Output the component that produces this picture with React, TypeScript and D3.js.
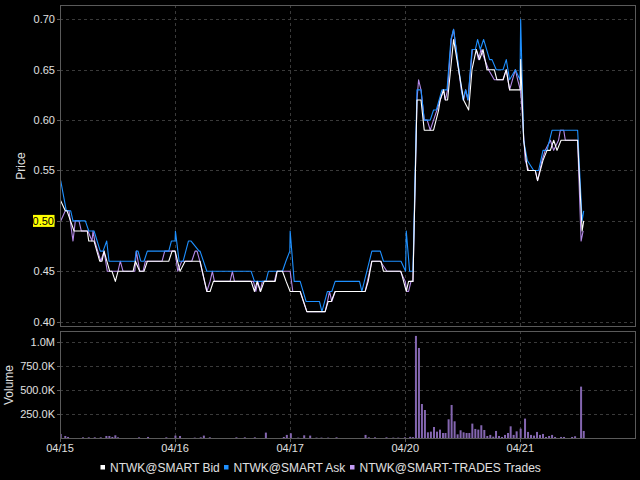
import React from "react";
import * as d3 from "d3";

// ---------- data ----------
const DAY_LABELS = ["04/15", "04/16", "04/17", "04/20", "04/21"];
const PRICE_TICKS = [0.4, 0.45, 0.5, 0.55, 0.6, 0.65, 0.7];
const VOLUME_TICKS = [250000, 500000, 750000, 1000000];
const LAST_PRICE = 0.5;
const SERIES_NAMES = ["NTWK@SMART Bid", "NTWK@SMART Ask", "NTWK@SMART-TRADES Trades"];

// time in trading days since 04/15 open, price
const bid: [number, number][] = [
  [0.006, 0.52], [0.046, 0.51], [0.061, 0.51], [0.122, 0.49], [0.237, 0.49], [0.25, 0.48],
  [0.296, 0.48], [0.345, 0.46], [0.365, 0.46], [0.383, 0.47], [0.432, 0.45], [0.452, 0.45],
  [0.481, 0.44], [0.504, 0.45], [0.635, 0.45], [0.655, 0.46], [0.693, 0.45], [0.73, 0.45],
  [0.759, 0.46], [0.945, 0.46], [0.974, 0.47], [1.0, 0.47], [1.043, 0.45], [1.087, 0.46],
  [1.217, 0.46], [1.276, 0.43], [1.304, 0.43], [1.333, 0.44], [1.661, 0.44], [1.69, 0.43],
  [1.713, 0.44], [1.743, 0.43], [1.774, 0.44], [1.87, 0.44], [1.887, 0.45], [1.933, 0.45],
  [1.965, 0.44], [2.0, 0.43], [2.087, 0.43], [2.145, 0.41], [2.304, 0.41], [2.33, 0.42],
  [2.357, 0.42], [2.391, 0.43], [2.652, 0.43], [2.678, 0.44], [2.71, 0.46], [2.789, 0.46],
  [2.811, 0.45], [2.963, 0.45], [3.009, 0.43], [3.029, 0.44], [3.067, 0.44], [3.102, 0.62],
  [3.137, 0.62], [3.165, 0.59], [3.246, 0.59], [3.29, 0.61], [3.304, 0.62], [3.333, 0.63],
  [3.348, 0.62], [3.368, 0.62], [3.42, 0.68], [3.507, 0.62], [3.551, 0.61], [3.58, 0.65],
  [3.617, 0.67], [3.646, 0.66], [3.676, 0.67], [3.71, 0.65], [3.774, 0.65], [3.797, 0.64],
  [3.85, 0.64], [3.878, 0.65], [3.907, 0.63], [4.0, 0.63], [4.003, 0.66], [4.029, 0.58],
  [4.063, 0.55], [4.13, 0.55], [4.15, 0.54], [4.197, 0.56], [4.232, 0.57], [4.261, 0.57],
  [4.29, 0.58], [4.319, 0.57], [4.354, 0.58], [4.498, 0.58], [4.537, 0.49], [4.551, 0.5],
];

const ask: [number, number][] = [
  [0.006, 0.54], [0.055, 0.51], [0.093, 0.51], [0.113, 0.5], [0.22, 0.5], [0.25, 0.49],
  [0.296, 0.49], [0.35, 0.47], [0.374, 0.47], [0.406, 0.48], [0.426, 0.46], [0.65, 0.46],
  [0.663, 0.47], [0.678, 0.47], [0.702, 0.46], [0.73, 0.46], [0.759, 0.47], [0.945, 0.47],
  [0.968, 0.48], [1.0, 0.48], [1.003, 0.49], [1.035, 0.46], [1.07, 0.46], [1.116, 0.48],
  [1.139, 0.48], [1.209, 0.47], [1.217, 0.47], [1.276, 0.45], [1.661, 0.45], [1.69, 0.44],
  [1.789, 0.44], [1.811, 0.45], [1.933, 0.45], [1.963, 0.46], [1.997, 0.47], [2.0, 0.49],
  [2.035, 0.44], [2.087, 0.44], [2.139, 0.42], [2.255, 0.42], [2.276, 0.41], [2.324, 0.43],
  [2.362, 0.43], [2.391, 0.44], [2.603, 0.44], [2.623, 0.43], [2.71, 0.47], [2.783, 0.47],
  [2.811, 0.46], [2.963, 0.46], [3.003, 0.45], [3.009, 0.49], [3.038, 0.45], [3.067, 0.45],
  [3.102, 0.63], [3.137, 0.63], [3.165, 0.6], [3.217, 0.6], [3.246, 0.61], [3.27, 0.61],
  [3.319, 0.63], [3.363, 0.63], [3.397, 0.68], [3.42, 0.69], [3.502, 0.62], [3.525, 0.63],
  [3.545, 0.62], [3.58, 0.67], [3.609, 0.67], [3.629, 0.68], [3.652, 0.67], [3.681, 0.68],
  [3.733, 0.66], [3.754, 0.66], [3.791, 0.65], [3.85, 0.65], [3.878, 0.66], [3.907, 0.64],
  [3.957, 0.65], [3.997, 0.64], [4.003, 0.7], [4.029, 0.58], [4.061, 0.56], [4.116, 0.55],
  [4.159, 0.55], [4.197, 0.57], [4.232, 0.57], [4.276, 0.59], [4.498, 0.59], [4.537, 0.5],
  [4.551, 0.51],
];

const trades: [number, number][] = [
  [0.006, 0.5], [0.046, 0.51], [0.078, 0.51], [0.113, 0.48], [0.133, 0.5], [0.165, 0.5],
  [0.185, 0.49], [0.243, 0.49], [0.278, 0.48], [0.287, 0.49], [0.302, 0.48], [0.354, 0.46],
  [0.383, 0.47], [0.411, 0.45], [0.504, 0.45], [0.524, 0.46], [0.548, 0.45], [0.65, 0.45],
  [0.663, 0.47], [0.693, 0.45], [0.722, 0.45], [0.742, 0.46], [0.887, 0.46], [0.91, 0.47],
  [0.974, 0.47], [1.0, 0.47], [1.023, 0.45], [1.058, 0.46], [1.145, 0.46], [1.174, 0.47],
  [1.191, 0.47], [1.215, 0.46], [1.276, 0.43], [1.304, 0.44], [1.324, 0.45], [1.342, 0.44],
  [1.478, 0.44], [1.498, 0.45], [1.516, 0.44], [1.681, 0.44], [1.702, 0.43], [1.719, 0.44],
  [1.739, 0.43], [1.759, 0.44], [1.863, 0.44], [1.884, 0.45], [1.957, 0.45], [2.0, 0.45],
  [2.023, 0.43], [2.087, 0.43], [2.145, 0.41], [2.304, 0.41], [2.324, 0.42], [2.342, 0.43],
  [2.362, 0.42], [2.391, 0.43], [2.652, 0.43], [2.71, 0.46], [2.783, 0.46], [2.841, 0.45],
  [2.957, 0.45], [3.0, 0.44], [3.014, 0.43], [3.029, 0.43], [3.05, 0.44], [3.067, 0.44],
  [3.102, 0.62], [3.116, 0.64], [3.137, 0.63], [3.165, 0.6], [3.191, 0.6], [3.217, 0.59],
  [3.246, 0.6], [3.276, 0.61], [3.333, 0.63], [3.348, 0.62], [3.368, 0.63], [3.4, 0.68],
  [3.42, 0.69], [3.487, 0.63], [3.507, 0.62], [3.525, 0.63], [3.545, 0.62], [3.583, 0.67],
  [3.617, 0.67], [3.637, 0.66], [3.658, 0.67], [3.724, 0.65], [3.774, 0.64], [3.85, 0.64],
  [3.878, 0.65], [3.907, 0.63], [3.957, 0.65], [3.977, 0.64], [4.0, 0.63], [4.009, 0.62],
  [4.043, 0.56], [4.072, 0.55], [4.13, 0.55], [4.15, 0.54], [4.189, 0.56], [4.217, 0.57],
  [4.261, 0.58], [4.29, 0.57], [4.332, 0.58], [4.348, 0.59], [4.377, 0.59], [4.391, 0.58],
  [4.498, 0.58], [4.528, 0.48], [4.546, 0.49],
];

// time, volume (thousands of shares)
const volume: [number, number][] = [
  [0.006, 45], [0.046, 24], [0.07, 14], [0.2, 10], [0.25, 10], [0.302, 10], [0.354, 10],
  [0.403, 24], [0.429, 24], [0.455, 14], [0.481, 31], [0.504, 10], [0.687, 10], [0.765, 14],
  [0.924, 10], [1.003, 28], [1.043, 24], [1.171, 7], [1.223, 10], [1.25, 28], [1.302, 10],
  [1.533, 10], [1.606, 10], [1.693, 10], [1.789, 59], [1.945, 14], [1.971, 35], [2.006, 52],
  [2.07, 7], [2.122, 31], [2.174, 28], [2.229, 7], [2.272, 7], [2.33, 7], [2.403, 10],
  [2.655, 35], [2.684, 10], [2.737, 10], [2.837, 10], [2.896, 7], [2.939, 7], [2.997, 10],
  [3.043, 15], [3.067, 12], [3.093, 1060], [3.119, 935], [3.145, 355], [3.171, 293],
  [3.197, 62], [3.223, 69], [3.25, 117], [3.276, 69], [3.302, 90], [3.328, 55], [3.35, 55],
  [3.377, 197], [3.403, 345], [3.429, 176], [3.455, 41], [3.481, 83], [3.507, 62], [3.533, 55],
  [3.557, 55], [3.583, 152], [3.609, 97], [3.635, 90], [3.661, 135], [3.687, 86], [3.713, 24],
  [3.739, 35], [3.765, 17], [3.789, 76], [3.815, 24], [3.841, 14], [3.867, 35], [3.893, 55],
  [3.916, 124], [3.942, 35], [3.968, 72], [4.003, 100], [4.041, 204], [4.067, 66], [4.093, 35],
  [4.119, 28], [4.145, 66], [4.171, 35], [4.197, 45], [4.223, 14], [4.25, 24], [4.276, 35],
  [4.302, 14], [4.354, 14], [4.38, 14], [4.45, 14], [4.476, 21], [4.528, 535], [4.551, 76],
];

// ---------- layout ----------
const W = 640;
const H = 480;
const L = 60;
const R = 636;
const P_TOP = 5;
const P_BOT = 326;
const V_TOP = 331;
const V_BOT = 438;

const COLORS = { bid: "#ffffff", ask: "#1e90ff", trades: "#b48ae8", vol: "#8466b0" };
const FONT = "'Liberation Sans', Arial, sans-serif";
const TEXT = "#e0e0e0";
const GRID = "#3a3a3a";
const BORDER = "#5a5a5a";

export default function App() {
  const x = d3.scaleLinear().domain([0, 5]).range([60, 635.4]);
  const yP = d3.scaleLinear().domain([0.4, 0.7]).range([321.7, 19.3]);
  const yV = d3.scaleLinear().domain([0, 1000000]).range([438.3, 341.7]);
  const line = d3
    .line<[number, number]>()
    .x((d) => x(d[0]))
    .y((d) => yP(d[1]));
  const dayTicks = DAY_LABELS.map((_, i) => i);
  const volFmt = (v: number) => (v >= 1000000 ? d3.format(".1f")(v / 1e6) + "M" : d3.format(".1f")(v / 1e3) + "K");

  return (
    <div style={{ position: "fixed", left: 0, top: 0, width: W, height: H, background: "#000" }}>
      <svg width={W} height={H} style={{ display: "block", background: "#000" }} fontFamily={FONT}>
        <defs>
          <clipPath id="pclip">
            <rect x={L} y={P_TOP} width={R - L} height={P_BOT - P_TOP} />
          </clipPath>
          <clipPath id="vclip">
            <rect x={L} y={V_TOP} width={R - L} height={V_BOT - V_TOP} />
          </clipPath>
        </defs>
        <rect x={0} y={0} width={W} height={H} fill="#000" />

        {/* price grid */}
        {PRICE_TICKS.map((t) => (
          <line key={"pg" + t} x1={L} x2={R} y1={Math.round(yP(t)) + 0.5} y2={Math.round(yP(t)) + 0.5}
            stroke={GRID} strokeDasharray="3,3" />
        ))}
        {dayTicks.slice(1).map((d) => (
          <line key={"pvg" + d} x1={Math.round(x(d)) + 0.5} x2={Math.round(x(d)) + 0.5} y1={P_TOP} y2={P_BOT}
            stroke={GRID} strokeDasharray="3,3" />
        ))}
        {/* volume grid */}
        {VOLUME_TICKS.map((t) => (
          <line key={"vg" + t} x1={L} x2={R} y1={Math.round(yV(t)) + 0.5} y2={Math.round(yV(t)) + 0.5}
            stroke={GRID} strokeDasharray="3,3" />
        ))}
        {dayTicks.slice(1).map((d) => (
          <line key={"vvg" + d} x1={Math.round(x(d)) + 0.5} x2={Math.round(x(d)) + 0.5} y1={V_TOP} y2={V_BOT}
            stroke={GRID} strokeDasharray="3,3" />
        ))}

        {/* price lines */}
        <g clipPath="url(#pclip)" fill="none" strokeWidth={1.1} strokeLinejoin="round">
          <path d={line(trades) || ""} stroke={COLORS.trades} />
          <path d={line(ask) || ""} stroke={COLORS.ask} />
          <path d={line(bid) || ""} stroke={COLORS.bid} />
        </g>

        {/* volume bars */}
        <g clipPath="url(#vclip)">
          {volume.map(([t, v], i) => (
            <rect key={"vb" + i} x={x(t) - 1} width={2} y={yV(v * 1000)} height={yV(0) - yV(v * 1000)}
              fill={COLORS.vol} />
          ))}
        </g>

        {/* panel borders */}
        <rect x={L + 0.5} y={P_TOP + 0.5} width={R - L - 1} height={P_BOT - P_TOP} fill="none" stroke={BORDER} />
        <rect x={L + 0.5} y={V_TOP + 0.5} width={R - L - 1} height={V_BOT - V_TOP} fill="none" stroke={BORDER} />

        {/* price axis */}
        {PRICE_TICKS.map((t) => (
          <g key={"pt" + t}>
            <line x1={L - 3} x2={L} y1={Math.round(yP(t)) + 0.5} y2={Math.round(yP(t)) + 0.5} stroke={BORDER} />
            <text x={55} y={yP(t)} dy="0.35em" textAnchor="end" fontSize={11} fill={TEXT}>
              {d3.format(".2f")(t)}
            </text>
          </g>
        ))}
        {/* last price marker */}
        <rect x={33} y={yP(LAST_PRICE) - 6} width={21.5} height={12} fill="#ffff00" />
        <text x={54} y={yP(LAST_PRICE)} dy="0.35em" textAnchor="end" fontSize={11} fill="#000">
          {d3.format(".2f")(LAST_PRICE)}
        </text>
        <text transform={`translate(25,166) rotate(-90)`} textAnchor="middle" fontSize={12} fill={TEXT}>
          Price
        </text>

        {/* volume axis */}
        {VOLUME_TICKS.map((t) => (
          <g key={"vt" + t}>
            <line x1={L - 3} x2={L} y1={Math.round(yV(t)) + 0.5} y2={Math.round(yV(t)) + 0.5} stroke={BORDER} />
            <text x={55} y={yV(t)} dy="0.35em" textAnchor="end" fontSize={11} fill={TEXT}>
              {volFmt(t)}
            </text>
          </g>
        ))}
        <text transform={`translate(13,385) rotate(-90)`} textAnchor="middle" fontSize={12} fill={TEXT}>
          Volume
        </text>

        {/* time axis */}
        {dayTicks.map((d) => (
          <g key={"xt" + d}>
            <line x1={Math.round(x(d)) + 0.5} x2={Math.round(x(d)) + 0.5} y1={V_BOT} y2={V_BOT + 4} stroke={BORDER} />
            <text x={x(d)} y={448} dy="0.35em" textAnchor="middle" fontSize={11} fill={TEXT}>
              {DAY_LABELS[d]}
            </text>
          </g>
        ))}

        {/* legend */}
        {[
          { name: SERIES_NAMES[0], color: COLORS.bid, sx: 100.5 },
          { name: SERIES_NAMES[1], color: COLORS.ask, sx: 224 },
          { name: SERIES_NAMES[2], color: "#c39cf5", sx: 350 },
        ].map((it) => (
          <g key={it.name}>
            <rect x={it.sx} y={465} width={4.5} height={4.5} fill={it.color} />
            <text x={it.sx + 9.5} y={467.5} dy="0.35em" fontSize={12} fill={TEXT}>
              {it.name}
            </text>
          </g>
        ))}
      </svg>
    </div>
  );
}
